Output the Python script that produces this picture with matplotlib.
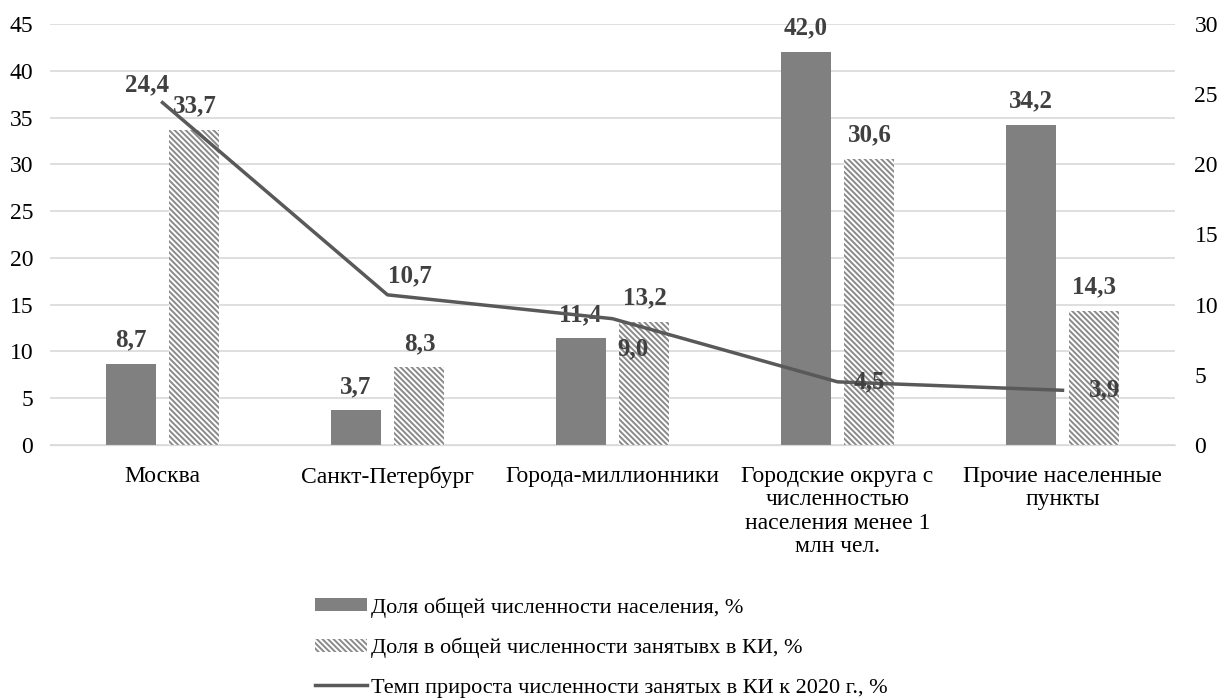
import numpy as np
import matplotlib.pyplot as plt
from matplotlib.patches import Patch
from matplotlib.lines import Line2D

plt.rcParams['font.family'] = ['Liberation Serif', 'DejaVu Serif']
plt.rcParams['hatch.color'] = '#8a8a8a'
plt.rcParams['hatch.linewidth'] = 1.4

categories = ['Москва', 'Санкт-Петербург', 'Города-миллионники',
              'Городские округа с\nчисленностью\nнаселения менее 1\nмлн чел.',
              'Прочие населенные\nпункты']
pop_share = [8.7, 3.7, 11.4, 42.0, 34.2]
emp_share = [33.7, 8.3, 13.2, 30.6, 14.3]
growth = [24.4, 10.7, 9.0, 4.5, 3.9]
labels = ['Доля общей численности населения, %',
          'Доля в общей численности занятывх в КИ, %',
          'Темп прироста численности занятых в КИ к 2020 г., %']

def fmt(v):
    return ('%.1f' % v).replace('.', ',')

fig = plt.figure(figsize=(12.31, 7), dpi=100)
ax = fig.add_axes([50/1231, 255/700, 1125/1231, 421/700])
ax2 = ax.twinx()

x = np.arange(len(categories))
w = 0.222
gap = 0.031
hatch = '\\' * 6
b1 = ax.bar(x - w/2 - gap, pop_share, w, color='#808080', zorder=2)
b2 = ax.bar(x + w/2 + gap, emp_share, w, color='white', hatch=hatch,
            edgecolor='#8a8a8a', linewidth=0, zorder=2)

for xi, v in zip(x - w/2 - gap, pop_share):
    ax.annotate(fmt(v), (xi, v), xytext=(0, 9), textcoords='offset points',
                ha='center', va='bottom', fontsize=18, fontweight='bold', color='#404040')
for xi, v in zip(x + w/2 + gap, emp_share):
    ax.annotate(fmt(v), (xi, v), xytext=(0, 9), textcoords='offset points',
                ha='center', va='bottom', fontsize=18, fontweight='bold', color='#404040')

ax2.plot(x, growth, color='#595959', lw=2.5, zorder=3)
offs = [(-11, 13), (16, 14), (15, -22), (23, 0), (30, 0)]
for xi, v, o in zip(x, growth, offs):
    ax2.annotate(fmt(v), (xi, v), xytext=o, textcoords='offset points',
                 ha='center', va='center', fontsize=18, fontweight='bold', color='#404040')

ax.set_xlim(-0.5, len(categories) - 0.5)
ax.set_ylim(0, 45)
ax.set_yticks(range(0, 46, 5))
ax2.set_ylim(0, 30)
ax2.set_yticks(range(0, 31, 5))
ax.set_xticks(x)
ax.set_xticklabels(categories, fontsize=17, va='top', linespacing=1.15)
ax.yaxis.grid(True, color='#d9d9d9', lw=1.2, zorder=0)
ax.set_axisbelow(True)
for a in (ax, ax2):
    for s in ['top', 'left', 'right']:
        a.spines[s].set_visible(False)
    a.spines['bottom'].set_color('#d9d9d9')
    a.tick_params(length=0, labelsize=17, colors='#000000')
ax.tick_params(axis='y', pad=12)
ax.tick_params(axis='x', pad=15)
ax2.tick_params(axis='y', pad=14)
ax2.set_zorder(ax.get_zorder() + 1)
ax2.patch.set_visible(False)

handles = [Patch(facecolor='#808080'),
           Patch(facecolor='white', hatch=hatch, edgecolor='#8a8a8a', linewidth=0),
           Line2D([0], [0], color='#595959', lw=2.5)]
fig.legend(handles, labels, loc='upper left', bbox_to_anchor=(304/1231, 1 - 586/700),
           frameon=False, fontsize=16, handlelength=2.35, handleheight=0.55,
           handletextpad=0.15, labelspacing=0.9, borderpad=0)

fig.savefig('out.png', dpi=100)
